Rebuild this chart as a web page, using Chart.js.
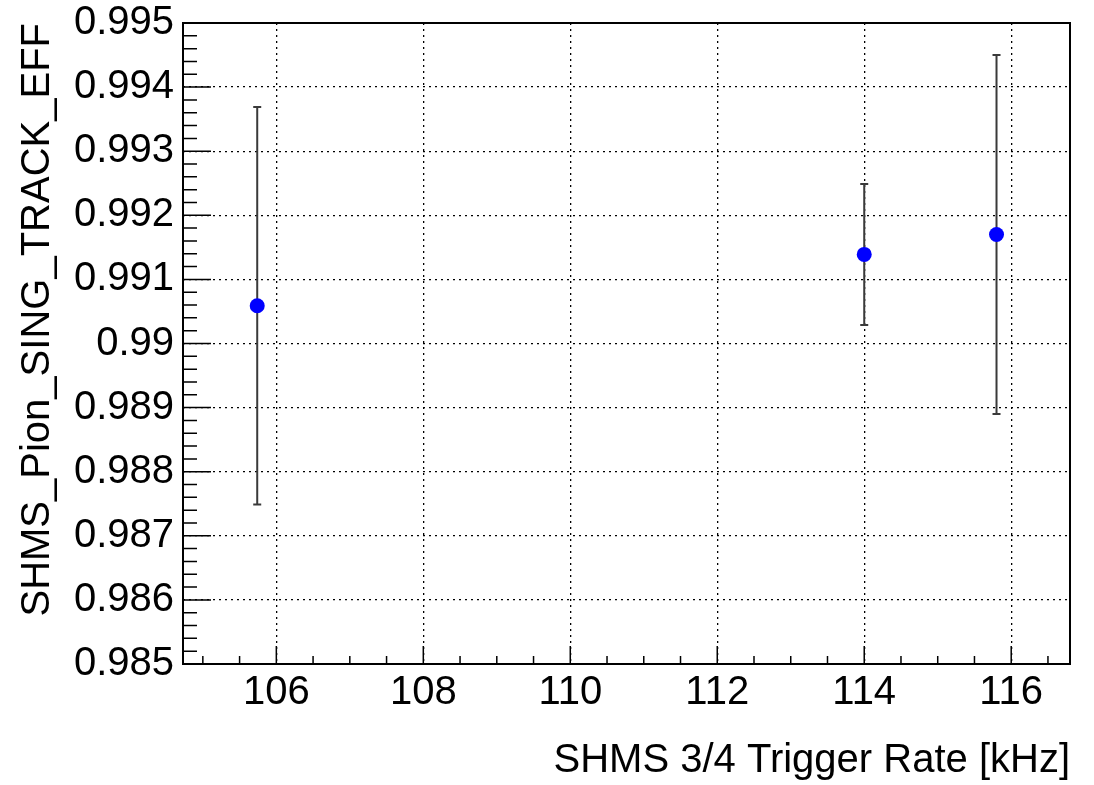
<!DOCTYPE html>
<html lang="en">
<head>
    <meta charset="UTF-8">
    <title>SHMS Pion single track efficiency vs trigger rate</title>
    <script src="https://cdn.jsdelivr.net/npm/chart.js"></script>
    <style>
        body { margin: 0; background: #fff; }
    </style>
</head>
<body>
    <canvas id="effChart" width="1094" height="785"></canvas>
    <script>
        // values
        const triggerRates = [105.74, 114.0, 115.80];
        const efficiencies = [0.99059, 0.99139, 0.99170];
        const effErrors = [0.00310, 0.00110, 0.00280];

        const xTickValues = [106, 108, 110, 112, 114, 116];
        const yTickValues = [0.985, 0.986, 0.987, 0.988, 0.989, 0.990, 0.991, 0.992, 0.993, 0.994, 0.995];

        const X_MIN = 104.73, X_MAX = 116.8;
        const Y_MIN = 0.985, Y_MAX = 0.995;

        const FONT = "'Liberation Sans', Arial, sans-serif";

        // error bars, drawn under the markers
        const errorBars = {
            id: 'errorBars',
            beforeDatasetsDraw(chart) {
                const { ctx, scales: { x, y } } = chart;
                ctx.save();
                ctx.strokeStyle = '#3a3a3a';
                ctx.lineWidth = 2;
                triggerRates.forEach((rate, i) => {
                    const px = x.getPixelForValue(rate);
                    const top = y.getPixelForValue(efficiencies[i] + effErrors[i]);
                    const bot = y.getPixelForValue(efficiencies[i] - effErrors[i]);
                    ctx.beginPath();
                    ctx.moveTo(px, top);
                    ctx.lineTo(px, bot);
                    ctx.moveTo(px - 4, top);
                    ctx.lineTo(px + 4, top);
                    ctx.moveTo(px - 4, bot);
                    ctx.lineTo(px + 4, bot);
                    ctx.stroke();
                });
                ctx.restore();
            }
        };

        // ROOT style frame with inward ticks
        const rootFrame = {
            id: 'rootFrame',
            afterDraw(chart) {
                const { ctx, chartArea: a, scales: { x, y } } = chart;
                ctx.save();
                ctx.strokeStyle = '#000';
                ctx.lineWidth = 1.5;
                ctx.beginPath();
                // y ticks, major every 0.001, minor every 0.0002
                for (let k = 0; k <= 50; k++) {
                    const py = y.getPixelForValue(Y_MIN + k * 0.0002);
                    const len = (k % 5 === 0) ? 28 : 14;
                    ctx.moveTo(a.left, py);
                    ctx.lineTo(a.left + len, py);
                }
                // x ticks, major every 2, minor every 0.5
                for (let k = 0; k <= 24; k++) {
                    const v = 105 + k * 0.5;
                    if (v > X_MAX) break;
                    const px = x.getPixelForValue(v);
                    const len = (Math.abs(v % 2) < 1e-9) ? 18 : 8;
                    ctx.moveTo(px, a.bottom);
                    ctx.lineTo(px, a.bottom - len);
                }
                ctx.stroke();
                ctx.lineWidth = 2;
                ctx.strokeRect(a.left, a.top, a.right - a.left, a.bottom - a.top);
                ctx.restore();
            }
        };

        const ctx = document.getElementById('effChart').getContext('2d');
        const chart = new Chart(ctx, {
            type: 'scatter',
            data: {
                datasets: [{
                    label: 'SHMS_Pion_SING_TRACK_EFF',
                    data: triggerRates.map((r, i) => ({ x: r, y: efficiencies[i] })),
                    backgroundColor: '#0000ff',
                    borderWidth: 0,
                    pointRadius: 7.5,
                    pointHoverRadius: 7.5
                }]
            },
            options: {
                responsive: false,
                animation: false,
                events: [],
                layout: { padding: { top: 23, right: 24, left: 0, bottom: 0 } },
                plugins: {
                    legend: { display: false },
                    tooltip: { enabled: false }
                },
                scales: {
                    x: {
                        type: 'linear',
                        min: X_MIN,
                        max: X_MAX,
                        afterBuildTicks: (scale) => {
                            scale.ticks = xTickValues.map(v => ({ value: v }));
                        },
                        afterFit: (scale) => { scale.height = 121; },
                        grid: { color: '#000', lineWidth: 1.3, drawTicks: false },
                        border: { display: false, dash: [2, 4] },
                        ticks: {
                            color: '#000',
                            padding: 5,
                            maxRotation: 0,
                            font: { family: FONT, size: 40 },
                            callback: (v) => String(v)
                        },
                        title: {
                            display: true,
                            text: 'SHMS 3/4 Trigger Rate [kHz]',
                            align: 'end',
                            color: '#000',
                            font: { family: FONT, size: 40 },
                            padding: { top: 0, bottom: 0 }
                        }
                    },
                    y: {
                        type: 'linear',
                        min: Y_MIN,
                        max: Y_MAX,
                        afterBuildTicks: (scale) => {
                            scale.ticks = yTickValues.map(v => ({ value: v }));
                        },
                        afterFit: (scale) => {
                            scale.width = 183;
                            scale.paddingTop = 0;
                            scale.paddingBottom = 0;
                        },
                        grid: { color: '#000', lineWidth: 1.3, drawTicks: false },
                        border: { display: false, dash: [2, 4] },
                        ticks: {
                            color: '#000',
                            padding: 9,
                            font: { family: FONT, size: 40 },
                            callback: (v) => String(parseFloat(v.toFixed(3)))
                        },
                        title: {
                            display: true,
                            text: 'SHMS_Pion_SING_TRACK_EFF',
                            align: 'end',
                            color: '#000',
                            font: { family: FONT, size: 40 },
                            padding: { top: 14, bottom: 0 }
                        }
                    }
                }
            },
            plugins: [errorBars, rootFrame]
        });
    </script>
</body>
</html>
